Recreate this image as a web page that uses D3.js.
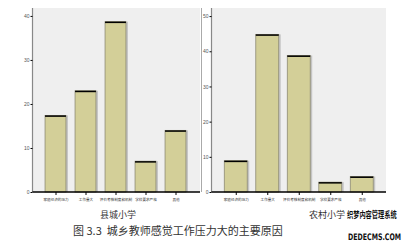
<!DOCTYPE html>
<html><head><meta charset="utf-8">
<script src="https://cdn.jsdelivr.net/npm/d3@7"></script>
<style>body{margin:0;background:#fff}svg{display:block}</style>
</head><body>
<script>
const categories = ["家庭经济的压力","工作量大","评价考核制度和机制","学校要求严格","其他"];
const countyValues = [17.4, 23.0, 38.7, 7.0, 14.0];
const ruralValues = [8.9, 44.8, 38.8, 2.8, 4.4];
const countyTicks = [0,10,20,30,40];
const ruralTicks = [0,10,20,30,40,50];
const panelTitles = ["县城小学","农村小学"];
const caption = "图 3.3  城乡教师感觉工作压力大的主要原因";
const watermark = ["织梦内容管理系统","DEDECMS.COM"];

const W=407,H=242;
const svg=d3.select("body").append("svg").attr("width",W).attr("height",H);
const cjk="'Noto Sans CJK SC','Noto Sans',sans-serif";

function panel(cfg){
  const g=svg.append("g");
  const y=d3.scaleLinear().domain([0,cfg.ymax]).range([192,8]);
  const x=d3.scaleBand().domain(categories).range(cfg.band).paddingInner(cfg.pad).paddingOuter(cfg.pad/2);
  g.append("rect").attr("x",cfg.x0).attr("y",8).attr("width",cfg.x1-cfg.x0).attr("height",184).attr("fill","#efefef");
  const bars=g.selectAll("g.bar").data(cfg.values).enter().append("g");
  bars.append("rect").attr("x",(d,i)=>x(categories[i])+1).attr("y",d=>y(d)).attr("width",x.bandwidth()).attr("height",d=>192-y(d)).attr("fill","#c4c4c4");
  bars.append("rect").attr("x",(d,i)=>x(categories[i])).attr("y",d=>y(d)).attr("width",x.bandwidth()-1).attr("height",d=>192-y(d)).attr("fill","#d3cf98").attr("stroke","#8d8a74").attr("stroke-width",0.8);
  bars.append("line").attr("x1",(d,i)=>x(categories[i])).attr("x2",(d,i)=>x(categories[i])+x.bandwidth()-1)
    .attr("y1",d=>y(d)+0.7).attr("y2",d=>y(d)+0.7).attr("stroke","#000").attr("stroke-width",1.5);
  const ya=g.append("g").attr("transform",`translate(${cfg.x0},0)`).call(d3.axisLeft(y).tickValues(cfg.ticks).tickSize(2).tickPadding(1).tickFormat(d3.format("d")));
  ya.select(".domain").attr("d",`M0,8V192`).attr("stroke","#888").attr("stroke-width",1.2);
  ya.selectAll(".tick line").attr("stroke","#000");
  ya.selectAll("text").attr("font-size",5).attr("fill","#555").attr("font-family","Arial,sans-serif");
  const xa=g.append("g").attr("transform","translate(0,192)").call(d3.axisBottom(x).tickSize(3).tickPadding(3));
  xa.select(".domain").attr("d",`M${cfg.x0},0H${cfg.x1}`).attr("stroke","#000").attr("stroke-width",1.5);
  xa.selectAll(".tick line").attr("stroke","#000");
  xa.selectAll("text").attr("font-size",3.6).attr("fill","#333").attr("font-family",cjk);
}
panel({values:countyValues,ticks:countyTicks,ymax:41.8,x0:32.5,x1:200,band:[41,191],pad:0.27});
panel({values:ruralValues,ticks:ruralTicks,ymax:52.3,x0:211.5,x1:386,band:[220.5,378],pad:0.24});
svg.append("line").attr("x1",201.5).attr("x2",201.5).attr("y1",8).attr("y2",192).attr("stroke","#aaa").attr("stroke-width",1);

svg.append("text").attr("x",100).attr("y",218).attr("font-size",9).attr("font-family",cjk).attr("fill","#333").text(panelTitles[0]);
svg.append("text").attr("x",309).attr("y",218).attr("font-size",9).attr("font-family",cjk).attr("fill","#333").text(panelTitles[1]);
svg.append("text").attr("x",73).attr("y",235).attr("font-size",11).attr("font-family",cjk).attr("fill","#333").style("white-space","pre").text(caption);
const wm=svg.append("g").attr("font-weight","bold").attr("fill","#111").attr("stroke","#fff").attr("stroke-width",1.2).attr("paint-order","stroke");
wm.append("text").attr("transform","translate(347,218) scale(0.69,1)").attr("font-size",9).attr("font-family",cjk).text(watermark[0]);
wm.append("text").attr("transform","translate(348,240) scale(0.7,1)").attr("font-size",9).attr("font-family","'DejaVu Sans',sans-serif").text(watermark[1]);
</script>
</body></html>
